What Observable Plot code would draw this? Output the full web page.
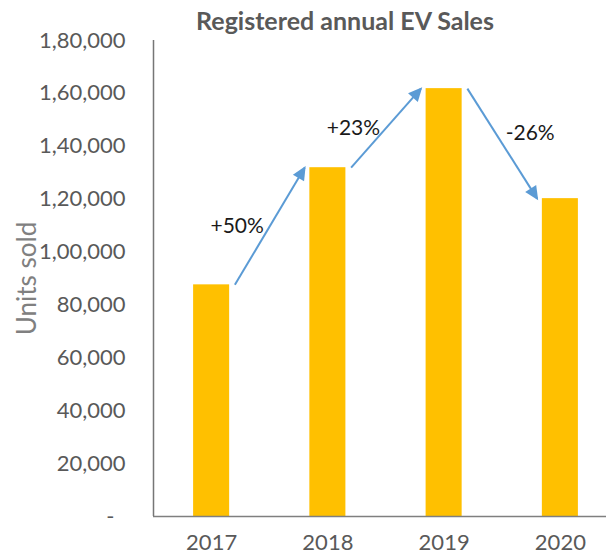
<!DOCTYPE html>
<html><head><meta charset="utf-8">
<script src="https://cdn.jsdelivr.net/npm/d3@7"></script>
<script src="https://cdn.jsdelivr.net/npm/@observablehq/plot@0.6"></script>
<style>
body{margin:0;background:#fff;}
#wrap{position:relative;width:606px;height:560px;overflow:hidden;background:#fff;}
#title{position:absolute;left:0;top:5px;width:690px;text-align:center;font:bold 25px Lato,sans-serif;color:#595959;z-index:2;}
#wrap svg{position:absolute;left:0;top:0;max-width:none !important;width:618px;height:560px;}
</style></head><body>
<div id="wrap"><div id="title"></div></div>
<script>
const chartTitle = "Registered annual EV Sales";
const yTitle = "Units sold";
const years = [2017, 2018, 2019, 2020];
const sales = [87600, 131900, 161800, 120200];
const changeLabels = ["+50%", "+23%", "-26%"];
const yTicks = [0, 20000, 40000, 60000, 80000, 100000, 120000, 140000, 160000, 180000];
const yTickLabels = ["-\u2002", "20,000", "40,000", "60,000", "80,000", "1,00,000", "1,20,000", "1,40,000", "1,60,000", "1,80,000"];

const xDomain = [years[0] - 0.5, years[years.length - 1] + 0.5];
const yDomain = [yTicks[0], yTicks[yTicks.length - 1]];
const barHalf = 0.155;
const arrowGap = 0.2;

const bars = years.map((year, i) => ({year, sales: sales[i]}));
const arrows = years.slice(1).map((yr, i) => ({
  x1: years[i] + arrowGap, y1: sales[i],
  x2: yr - arrowGap, y2: sales[i + 1],
  label: changeLabels[i]
}));

document.getElementById("title").textContent = chartTitle;

const chart = Plot.plot({
  width: 618, height: 560,
  marginLeft: 153, marginRight: 0, marginTop: 40, marginBottom: 44,
  style: {fontFamily: "Lato, sans-serif", background: "white"},
  x: {type: "linear", domain: xDomain, axis: null},
  y: {domain: yDomain, axis: null},
  marks: [
    Plot.rectY(bars, {x1: d => d.year - barHalf, x2: d => d.year + barHalf, y1: 0, y2: "sales", fill: "#FFC000"}),
    Plot.ruleY([yDomain[0]], {stroke: "#7f7f7f", strokeWidth: 1.5}),
    Plot.ruleX([xDomain[0]], {y1: yDomain[0], y2: yDomain[1], stroke: "#767676", strokeWidth: 1.5}),
    Plot.axisY({ticks: yTicks, tickFormat: d => yTickLabels[yTicks.indexOf(d)], tickSize: 0, tickPadding: 28, fontSize: 22, fill: "#595959", label: null}),
    Plot.axisX({ticks: years, tickFormat: d => String(d), tickSize: 0, tickPadding: 18, fontSize: 22, fill: "#595959", label: null}),
    Plot.text([yTitle], {frameAnchor: "left", dx: -126, rotate: -90, text: d => d, fontSize: 26, fill: "#808080", textAnchor: "middle", lineAnchor: "middle"}),
    Plot.link(arrows, {x1: "x1", y1: "y1", x2: "x2", y2: "y2", stroke: "#5B9BD5", strokeWidth: 2}),
    Plot.text(arrows, {
      x: d => (d.x1 + d.x2) / 2 + (d.y2 > d.y1 ? -0.28 : 0.24),
      y: d => (d.y1 + d.y2) / 2 + (d.y2 > d.y1 ? 0 : 4000),
      text: "label", fontSize: 21, fill: "#1a1a1a", textAnchor: "middle", lineAnchor: "middle"
    })
  ]
});

// filled arrowheads for the link paths
const ns = "http://www.w3.org/2000/svg";
const defs = document.createElementNS(ns, "defs");
const marker = document.createElementNS(ns, "marker");
marker.setAttribute("id", "ev-head");
marker.setAttribute("markerUnits", "userSpaceOnUse");
marker.setAttribute("viewBox", "-16 -8 18 16");
marker.setAttribute("markerWidth", "18");
marker.setAttribute("markerHeight", "16");
marker.setAttribute("refX", "-2");
marker.setAttribute("refY", "0");
marker.setAttribute("orient", "auto");
const head = document.createElementNS(ns, "path");
head.setAttribute("d", "M-14,-6.5L0,0L-14,6.5Z");
head.setAttribute("fill", "#5B9BD5");
marker.appendChild(head);
defs.appendChild(marker);
chart.insertBefore(defs, chart.firstChild);
chart.querySelectorAll('g[aria-label="link"] path').forEach(p => p.setAttribute("marker-end", "url(#ev-head)"));

document.getElementById("wrap").appendChild(chart);
</script>
</body></html>
